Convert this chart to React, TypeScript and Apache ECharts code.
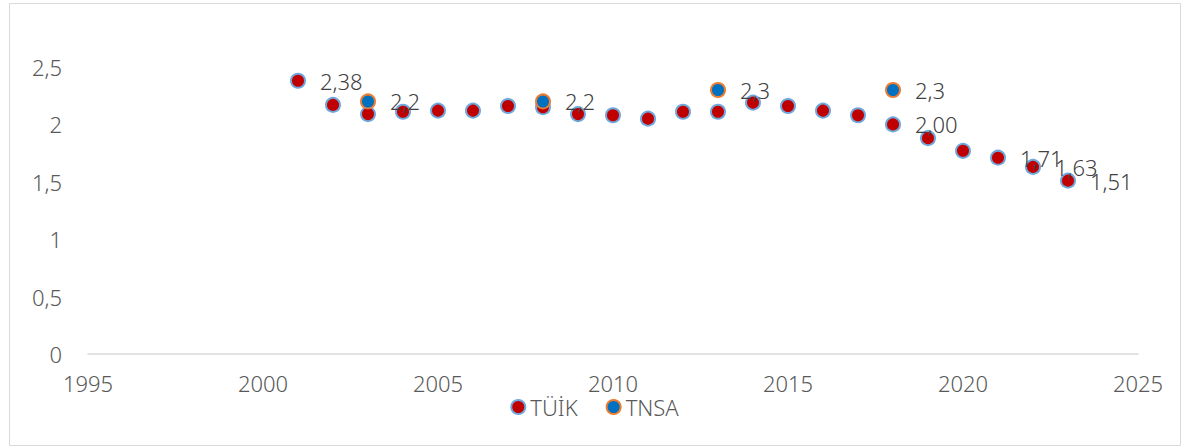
import React, { useEffect, useRef } from "react";
import * as echarts from "echarts";

const tuikYears = [2001, 2002, 2003, 2004, 2005, 2006, 2007, 2008, 2009, 2010, 2011, 2012, 2013, 2014, 2015, 2016, 2017, 2018, 2019, 2020, 2021, 2022, 2023];
const tuikValues = [2.38, 2.17, 2.09, 2.11, 2.12, 2.12, 2.16, 2.15, 2.09, 2.08, 2.05, 2.11, 2.11, 2.19, 2.16, 2.12, 2.08, 2.0, 1.88, 1.77, 1.71, 1.63, 1.51];
const tuikLabelled = [2001, 2018, 2021, 2022, 2023];
const tnsaYears = [2003, 2008, 2013, 2018];
const tnsaValues = [2.2, 2.2, 2.3, 2.3];
const tnsaLabels = ["2,2", "2,2", "2,3", "2,3"];

const FONT = "'Noto Sans', sans-serif";
const FS = 22;

export default function App() {
  const ref = useRef<HTMLDivElement>(null);
  useEffect(() => {
    if (!ref.current) return;
    const chart = echarts.init(ref.current, null, { renderer: "svg" });
    const labelStyle = {
      position: "right" as const,
      distance: 14,
      fontSize: FS,
      fontFamily: FONT,
      fontWeight: 300,
      color: "#404040",
    };
    chart.setOption({
      animation: false,
      backgroundColor: "#ffffff",
      textStyle: { fontFamily: FONT },
      graphic: [
        {
          type: "rect",
          shape: { x: 9.5, y: 3.5, width: 1171, height: 442 },
          style: { fill: "none", stroke: "#d9d9d9", lineWidth: 1 },
          silent: true,
        },
      ],
      grid: { left: 88, right: 51, top: 67, bottom: 93 },
      xAxis: {
        type: "value",
        min: 1995,
        max: 2025,
        interval: 5,
        axisLine: { show: true, lineStyle: { color: "#d9d9d9", width: 1.5 } },
        axisTick: { show: false },
        splitLine: { show: false },
        axisLabel: {
          fontSize: FS,
          fontWeight: 300,
          color: "#595959",
          fontFamily: FONT,
          margin: 18,
          formatter: (v: number) => String(v),
        },
      },
      yAxis: {
        type: "value",
        min: 0,
        max: 2.5,
        interval: 0.5,
        axisLine: { show: false },
        axisTick: { show: false },
        splitLine: { show: false },
        axisLabel: {
          fontSize: FS,
          fontWeight: 300,
          color: "#595959",
          fontFamily: FONT,
          margin: 26,
          formatter: (v: number) => String(v).replace(".", ","),
        },
      },
      legend: {
        bottom: 24,
        left: "center",
        icon: "circle",
        itemWidth: 14,
        itemHeight: 14,
        itemGap: 28,
        textStyle: { fontSize: FS, fontWeight: 300, color: "#595959", fontFamily: FONT },
        data: ["TÜİK", "TNSA"],
      },
      series: [
        {
          name: "TÜİK",
          type: "scatter",
          symbol: "circle",
          symbolSize: 14,
          itemStyle: { color: "#C00000", borderColor: "#6FA8DC", borderWidth: 2, opacity: 1 },
          data: tuikYears.map((y, i) => ({
            value: [y, tuikValues[i]],
            label: tuikLabelled.includes(y)
              ? { show: true, ...labelStyle, formatter: tuikValues[i].toFixed(2).replace(".", ",") }
              : { show: false },
          })),
          z: 2,
        },
        {
          name: "TNSA",
          type: "scatter",
          symbol: "circle",
          symbolSize: 14,
          itemStyle: { color: "#0070C0", borderColor: "#ED7D31", borderWidth: 2, opacity: 1 },
          data: tnsaYears.map((y, i) => ({
            value: [y, tnsaValues[i]],
            label: { show: true, ...labelStyle, formatter: tnsaLabels[i] },
          })),
          z: 3,
        },
      ],
    });
    return () => chart.dispose();
  }, []);
  return (
    <div style={{ position: "absolute", left: 0, top: 0, width: 1189, height: 447 }}>
      <div ref={ref} style={{ width: 1189, height: 447 }} />
    </div>
  );
}
